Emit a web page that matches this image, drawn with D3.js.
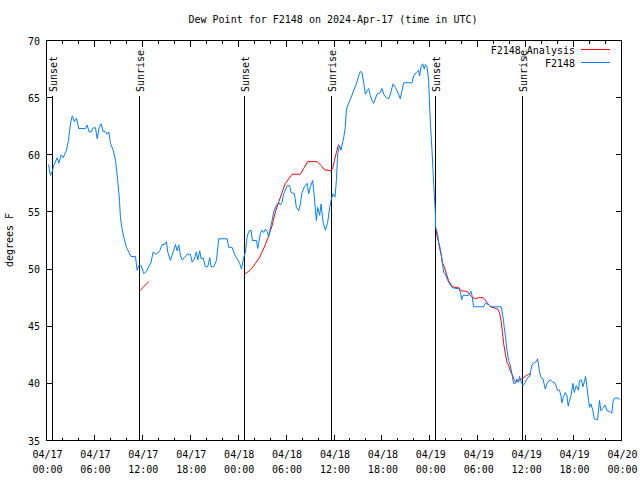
<!DOCTYPE html>
<html>
<head>
<meta charset="utf-8">
<script src="https://cdn.jsdelivr.net/npm/d3@7"></script>
<style>
  html, body { margin: 0; padding: 0; background: #fff; }
  svg { display: block; }
  text { font-family: "DejaVu Sans Mono", "Liberation Mono", monospace; font-size: 10px; fill: #000; }
</style>
</head>
<body>
<script>
// ---------- DATA ----------
const titleText = "Dew Point for F2148 on 2024-Apr-17 (time in UTC)";
const yLabelText = "degrees F";
const seriesNames = ["F2148_Analysis", "F2148"];
const seriesColors = ["#ff0000", "#0080ff"];
const yTicks = [35, 40, 45, 50, 55, 60, 65, 70];

// hours after 2024-04-17 00:00 UTC
const obsHours = [0.25,0.5,0.75,0.91,1.34,1.54,1.84,2.09,2.5,2.75,3.0,3.22,3.5,3.75,4.04,4.88,5.09,5.34,5.59,5.84,6.13,6.35,6.6,6.85,7.1,7.42,7.6,7.8,8.01,8.35,8.64,8.92,9.14,9.26,9.47,9.67,10.01,10.3,10.6,11.14,11.35,11.55,11.85,12.18,12.52,12.8,13.1,13.35,13.64,13.93,14.18,14.48,14.77,15.02,15.18,15.52,15.86,16.15,16.36,16.56,16.77,16.98,17.27,17.61,18.02,18.24,18.52,18.77,18.94,19.19,19.36,19.61,19.9,20.19,20.44,20.61,20.94,21.28,21.57,22.62,22.82,23.24,23.53,23.87,24.19,24.41,24.69,24.91,25.12,25.32,25.62,25.78,26.28,26.45,26.78,27.0,27.2,27.41,27.62,27.82,28.04,28.25,28.45,28.79,29.07,29.29,29.5,29.7,29.91,30.13,30.45,30.63,31.04,31.29,31.58,31.79,32.0,32.29,32.63,32.83,33.04,33.33,33.54,33.79,33.96,34.21,34.38,34.63,34.92,35.21,35.46,35.63,35.88,36.13,36.3,36.46,36.71,36.88,37.21,37.42,37.55,37.83,38.14,38.46,38.8,39.09,39.3,39.51,39.71,39.92,40.14,40.34,40.55,40.76,40.96,41.39,41.72,42.02,42.22,42.55,42.84,43.05,43.39,43.68,43.89,44.09,44.3,44.52,44.72,45.77,45.97,46.31,46.6,46.72,46.9,47.1,47.31,47.44,47.65,47.85,48.06,48.27,48.4,48.56,48.69,48.72,48.97,49.1,49.31,49.44,49.56,49.73,49.94,50.15,50.48,50.78,51.19,51.6,51.82,51.98,52.15,52.86,53.15,53.28,53.48,54.73,54.94,55.36,55.66,56.95,57.16,57.32,57.49,57.66,57.86,58.07,58.29,58.49,58.7,58.91,59.11,59.24,59.45,59.66,59.95,60.24,60.49,60.79,61.08,61.33,61.49,61.74,61.92,62.17,62.45,62.74,63.08,63.42,63.7,63.99,64.24,64.42,64.54,64.74,64.96,65.17,65.33,65.49,65.67,65.92,66.08,66.33,66.62,66.74,67.0,67.17,67.33,67.5,67.67,67.87,68.0,68.17,68.42,68.59,69.0,69.25,69.42,69.67,69.96,70.18,70.5,70.8,70.93,71.1,71.63,71.84];
const obsValues = [59.15,58.2,58.6,59.06,59.74,59.26,60.0,59.74,60.4,61.25,62.7,63.4,62.9,63.2,62.3,62.3,62.6,62.0,62.0,62.36,62.36,61.4,62.4,62.7,62.04,62.0,61.8,62.0,61.0,60.4,59.5,57.75,56.0,54.5,53.5,52.8,51.9,51.5,51.1,51.1,49.9,50.3,50.3,49.6,49.8,50.2,50.6,51.5,51.3,51.4,51.6,52.15,52.15,52.4,51.5,50.75,51.5,52.15,51.6,52.1,51.2,50.8,51.0,51.3,51.3,50.6,50.9,51.5,50.8,51.6,50.9,51.0,50.2,50.2,51.0,50.2,50.2,50.75,52.65,52.65,51.9,51.9,51.3,50.9,50.5,50.0,51.0,51.5,52.8,53.3,53.4,52.5,52.5,51.8,53.1,53.4,53.2,53.5,53.3,52.8,53.6,54.25,55.0,55.6,55.85,55.6,55.85,56.6,56.9,57.3,57.3,56.7,56.6,55.4,55.1,55.7,56.7,57.2,57.5,56.6,57.2,57.75,56.3,54.25,55.4,54.7,55.7,54.1,53.4,54.1,55.4,56.0,56.6,56.3,57.75,60.1,60.8,60.4,61.5,62.4,64.0,64.5,65.0,65.6,66.2,66.9,67.3,67.2,66.35,65.3,65.6,65.8,65.2,64.75,64.5,65.3,65.4,65.8,65.3,65.0,64.9,65.3,66.2,65.9,65.6,65.3,64.9,65.6,66.3,66.3,66.9,67.2,67.4,66.9,67.7,67.96,67.5,67.9,67.7,66.5,62.85,60.4,58.6,56.5,55.0,53.7,53.1,52.35,51.8,51.2,50.6,49.7,49.6,49.15,48.7,48.4,48.3,48.3,48.0,47.3,47.7,47.7,48.06,47.7,46.7,46.7,47.0,46.9,46.7,46.7,45.8,44.9,44.0,42.9,42.0,41.6,40.8,40.0,40.0,40.4,40.1,40.6,40.1,39.8,40.1,40.5,40.6,41.6,41.8,41.9,42.15,41.0,40.5,40.4,39.5,40.1,40.3,40.1,40.0,39.4,39.4,38.9,38.3,38.85,39.2,38.9,38.0,38.5,38.9,40.0,39.2,39.8,39.4,40.25,40.3,39.7,40.1,40.6,39.7,38.5,37.9,38.2,37.6,36.9,36.8,38.5,37.6,37.8,38.1,37.6,37.55,37.4,38.35,38.7,38.7,38.55];

// analysis: null marks a gap
const anaHours = [11.68,12.8,null,24.87,25.32,25.75,26.16,26.57,27.0,27.41,27.82,28.25,28.66,29.07,29.5,29.91,30.33,30.75,31.79,32.2,32.7,33.88,34.38,34.79,35.63,35.88,36.05,36.3,36.58,null,48.77,48.9,49.1,49.23,49.44,49.56,49.81,50.06,50.35,50.65,50.98,51.6,51.9,52.44,52.73,53.07,53.4,53.69,54.1,54.66,54.94,55.23,55.57,56.07,56.48,56.73,56.91,57.07,57.24,57.45,57.66,57.86,58.07,58.29,58.57,58.82,59.11,59.53,59.95,60.36,60.66];
const anaValues = [48.1,48.9,null,49.6,49.8,50.1,50.5,50.9,51.5,52.15,52.9,53.8,55.0,55.85,56.7,57.5,57.9,58.3,58.3,58.8,59.4,59.4,59.06,58.7,58.6,58.9,59.5,60.2,60.9,null,53.5,52.9,52.35,51.8,51.2,50.6,50.2,49.6,49.0,48.65,48.4,48.4,48.1,48.06,48.0,47.7,47.5,47.4,47.5,47.5,47.3,47.0,46.7,46.6,46.5,46.2,45.5,44.6,43.5,42.6,41.85,41.6,41.1,40.8,40.3,40.1,40.25,40.4,40.6,40.8,40.8];

const sunEventNames = ["Sunset", "Sunrise", "Sunset", "Sunrise", "Sunset", "Sunrise"];
const sunEventHours = [0.78, 11.66, 24.8, 35.66, 48.75, 59.55];

// ---------- CHART ----------
const W = 640, H = 480;
const t0 = Date.UTC(2024, 3, 17, 0, 0);
const toDate = h => new Date(t0 + h * 3600000);

const svg = d3.select("body").append("svg").attr("width", W).attr("height", H);

const x = d3.scaleUtc().domain([toDate(0), toDate(72)]).range([46.5, 621.5]);
const y = d3.scaleLinear().domain([35, 70]).range([440.5, 40.5]);

// title
svg.append("text").attr("x", 333).attr("y", 23).attr("text-anchor", "middle").text(titleText);
// y label
svg.append("text").attr("transform", "translate(13,240) rotate(-90)").attr("text-anchor", "middle").text(yLabelText);

const g = svg.append("g").attr("shape-rendering", "crispEdges");

// y ticks (both sides, inward) and labels
const py = d => Math.round(y(d) - 0.5) + 0.5;
const yt = g.selectAll("g.yt").data(yTicks).enter().append("g");
yt.append("line").attr("x1", 46.5).attr("x2", 52.5).attr("y1", py).attr("y2", py).attr("stroke", "#000");
yt.append("line").attr("x1", 615.5).attr("x2", 621.5).attr("y1", py).attr("y2", py).attr("stroke", "#000");
svg.selectAll("text.ytl").data(yTicks).enter().append("text")
  .attr("x", 40).attr("y", d => y(d) + 4).attr("text-anchor", "end").text(d => d);

// x ticks
const minorT = x.ticks(d3.utcHour.every(2));
const majorT = x.ticks(d3.utcHour.every(6));
const px = d => Math.round(x(d) - 0.5) + 0.5;
g.selectAll("line.xmin").data(minorT).enter().append("line")
  .attr("x1", px).attr("x2", px).attr("y1", 440.5).attr("y2", 437.5).attr("stroke", "#000");
g.selectAll("line.xmin2").data(minorT).enter().append("line")
  .attr("x1", px).attr("x2", px).attr("y1", 40.5).attr("y2", 43.5).attr("stroke", "#000");
g.selectAll("line.xmaj").data(majorT).enter().append("line")
  .attr("x1", px).attr("x2", px).attr("y1", 440.5).attr("y2", 434.5).attr("stroke", "#000");
g.selectAll("line.xmaj2").data(majorT).enter().append("line")
  .attr("x1", px).attr("x2", px).attr("y1", 40.5).attr("y2", 46.5).attr("stroke", "#000");
const fDate = d3.utcFormat("%m/%d"), fTime = d3.utcFormat("%H:%M");
const xl = svg.selectAll("text.xl").data(majorT).enter().append("text")
  .attr("text-anchor", "middle");
xl.append("tspan").attr("x", d => x(d) + 1).attr("y", 458).text(fDate);
xl.append("tspan").attr("x", d => x(d) + 1).attr("y", 473).text(fTime);

// sunrise / sunset markers
sunEventHours.forEach((h, i) => {
  const xx = Math.round(x(toDate(h)) - 0.5) + 0.5;
  g.append("line").attr("x1", xx).attr("x2", xx).attr("y1", 96).attr("y2", 440.5).attr("stroke", "#000");
  svg.append("text").attr("transform", `translate(${xx + 4},92) rotate(-90)`)
    .attr("text-anchor", "start").text(sunEventNames[i]);
});

// data lines
const line = d3.line()
  .defined(d => d[1] != null)
  .x(d => x(toDate(d[0])))
  .y(d => y(d[1]));
const anaData = anaHours.map((h, i) => [h, anaValues[i]]);
const obsData = obsHours.map((h, i) => [h, obsValues[i]]);
svg.append("path").datum(anaData).attr("d", line).attr("fill", "none").attr("stroke", seriesColors[0]).attr("stroke-width", 1);
svg.append("path").datum(obsData).attr("d", line).attr("fill", "none").attr("stroke", seriesColors[1]).attr("stroke-width", 1);

// frame
g.append("rect").attr("x", 46.5).attr("y", 40.5).attr("width", 575).attr("height", 400)
  .attr("fill", "none").attr("stroke", "#000");

// legend
seriesNames.forEach((n, i) => {
  const ly = 50 + i * 13;
  svg.append("text").attr("x", 575).attr("y", ly + 4).attr("text-anchor", "end").text(n);
  g.append("line").attr("x1", 581).attr("x2", 610).attr("y1", ly - 0.5).attr("y2", ly - 0.5)
    .attr("stroke", seriesColors[i]);
});
</script>
</body>
</html>
